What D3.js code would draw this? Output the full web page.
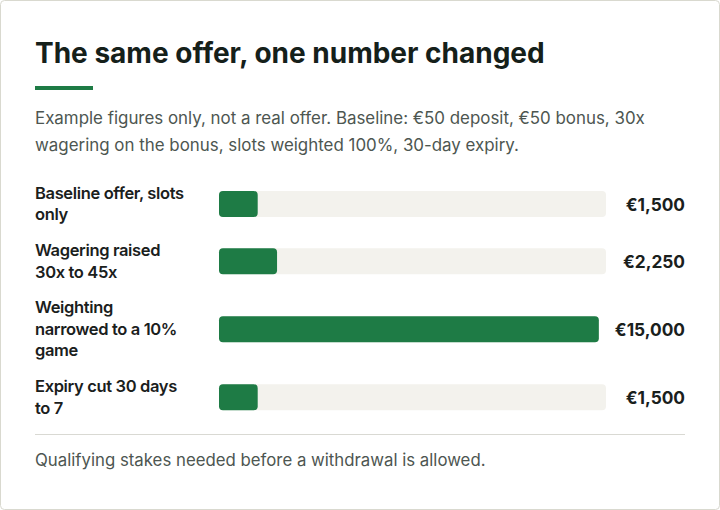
<!DOCTYPE html>
<html>
<head>
<meta charset="utf-8">
<script src="https://cdn.jsdelivr.net/npm/d3@7"></script>
<style>
  html, body { margin: 0; padding: 0; background: #ffffff; }
  svg { display: block; font-family: Inter, "Noto Sans", sans-serif; }
</style>
</head>
<body>
<svg id="chart" width="720" height="510"></svg>
<script>
const title = "The same offer, one number changed";
const subtitleLines = [
  "Example figures only, not a real offer. Baseline: €50 deposit, €50 bonus, 30x",
  "wagering on the bonus, slots weighted 100%, 30-day expiry."
];
const categories = [
  ["Baseline offer, slots", "only"],
  ["Wagering raised", "30x to 45x"],
  ["Weighting", "narrowed to a 10%", "game"],
  ["Expiry cut 30 days", "to 7"]
];
const values = [1500, 2250, 15000, 1500];
const valueLabels = ["€1,500", "€2,250", "€15,000", "€1,500"];
const footnote = "Qualifying stakes needed before a withdrawal is allowed.";

const W = 720, H = 510;
const left = 35, right = 685;
const barX0 = 219, barH = 26, lineH = 21.7, rowGap = 13.8;
const green = "#1e7b45", track = "#f3f2ed";

const svg = d3.select("#chart");

svg.append("rect").attr("x", 0.5).attr("y", 0.5).attr("width", W - 1).attr("height", H - 1)
  .attr("rx", 4).attr("fill", "#fff").attr("stroke", "#d9d9cf");

svg.append("text").attr("x", left).attr("y", 63).text(title)
  .attr("font-size", 28).attr("font-weight", 700).attr("letter-spacing", 0)
  .attr("fill", "#15201a");

svg.append("rect").attr("x", left).attr("y", 86).attr("width", 58).attr("height", 4).attr("fill", green);

svg.append("g").selectAll("text").data(subtitleLines).join("text")
  .attr("x", left).attr("y", (d, i) => 124 + i * 26.5)
  .attr("font-size", 16.9).attr("fill", "#4d5651").text(d => d);

const maxV = d3.max(values);
const rows = svg.append("g");
let y = 204 - lineH;
categories.forEach((lines, i) => {
  const blockH = Math.max(lines.length * lineH, barH);
  const cy = y + blockH / 2;
  const g = rows.append("g");
  const t = g.append("text").attr("font-size", 16.5).attr("font-weight", 600)
    .attr("letter-spacing", -0.35).attr("fill", "#1a201c");
  const firstBase = cy - (lines.length - 1) * lineH / 2 + 5.5;
  t.selectAll("tspan").data(lines).join("tspan")
    .attr("x", left).attr("y", (d, j) => firstBase + j * lineH).text(d => d);

  const vt = g.append("text").attr("x", right).attr("y", cy + 7).attr("text-anchor", "end")
    .attr("font-size", 17.3).attr("font-weight", 700).attr("fill", "#1a201c").text(valueLabels[i]);
  const vw = Math.max(vt.node().getComputedTextLength(), 63);
  const trackEnd = right - vw - 16;
  const x = d3.scaleLinear().domain([0, maxV]).range([barX0, trackEnd]);

  g.append("rect").attr("x", x(0)).attr("y", cy - barH / 2).attr("width", x(maxV) - x(0)).attr("height", barH)
    .attr("rx", 4).attr("fill", track);
  g.append("rect").attr("x", x(0)).attr("y", cy - barH / 2).attr("width", x(values[i]) - x(0)).attr("height", barH)
    .attr("rx", 4).attr("fill", green);
  y += blockH + rowGap;
});

svg.append("line").attr("x1", left).attr("x2", right).attr("y1", 434.5).attr("y2", 434.5)
  .attr("stroke", "#d9d9d3").attr("stroke-width", 1);

svg.append("text").attr("x", left).attr("y", 465.5).attr("font-size", 16.8).attr("fill", "#4d5651").text(footnote);
</script>
</body>
</html>
